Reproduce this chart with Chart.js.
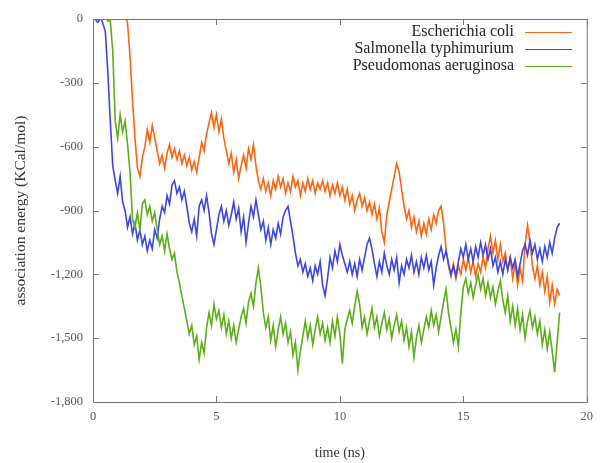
<!DOCTYPE html>
<html>
<head>
<meta charset="utf-8">
<script src="https://cdn.jsdelivr.net/npm/chart.js@4.4.1/dist/chart.umd.min.js"></script>
<style>
html, body { margin: 0; padding: 0; background: #fff; }
#wrap { width: 600px; height: 463px; }
</style>
</head>
<body>
<div id="wrap"><canvas id="energyChart" width="600" height="463"></canvas></div>
<script>
// sampling: every 0.1 ns, each series starts at its own time
const step = 0.1;
const seriesNames = ['Escherichia coli', 'Salmonella typhimurium', 'Pseudomonas aeruginosa'];
const seriesColors = ['#ff6410', '#3c46e6', '#5cad18'];

const ecoliStart = 1.3;
const ecoli = [
  30, -20, -180, -380, -560, -700, -740, -650, -600, -520, -580, -500, -560, -620, -680, -640, -700,
  -630, -590, -650, -610, -660, -620, -680, -640, -690, -650, -710, -670, -720, -650, -580, -620,
  -540, -490, -440, -510, -450, -530, -470, -560, -620, -680, -630, -720, -660, -750, -690, -640,
  -700, -610, -660, -590, -690, -760, -800, -750, -810, -770, -830, -760, -800, -740, -790, -750,
  -820, -770, -810, -740, -790, -760, -830, -770, -810, -750, -800, -760, -820, -770, -800, -760,
  -810, -770, -830, -780, -820, -770, -830, -790, -850, -800, -870, -830, -900, -850, -820, -880,
  -840, -900, -860, -920, -870, -940, -890, -1000, -1050, -920, -860, -800, -740, -680, -720, -800,
  -880, -940, -900, -980, -930, -1000, -950, -1020, -960, -1010, -940, -990, -920, -960, -900, -880,
  -960, -1080, -1160, -1210, -1150, -1220, -1160, -1200, -1130, -1180, -1120, -1190, -1140, -1210,
  -1150, -1190, -1120, -1170, -1080, -1020, -1100, -1040, -1130, -1060, -1140, -1100, -1180, -1120,
  -1220, -1150, -1250, -1170, -1230, -1060, -970, -1050, -1160, -1220, -1160, -1250, -1190, -1280,
  -1210, -1330, -1250, -1340, -1270, -1300
];

const salmonellaStart = 0.1;
const salmonella = [
  -5, -15, 5, -20, -60, -250, -480, -690, -760, -820, -740, -860, -900, -980, -930, -1010, -960,
  -1040, -990, -1060, -1020, -1090, -1040, -1080, -990, -1030, -940, -880, -910, -830, -870, -780,
  -760, -820, -790, -850, -810, -880, -960, -1000, -940, -1020, -880, -850, -900, -830, -910, -1010,
  -1060, -990, -920, -880, -950, -900, -970, -920, -860, -940, -890, -1000, -930, -1050, -960, -880,
  -930, -850, -920, -990, -950, -1040, -980, -1060, -990, -1030, -960, -1010, -930, -900, -880, -950,
  -1020, -1100, -1160, -1130, -1190, -1150, -1210, -1170, -1230, -1160, -1200, -1140, -1250, -1300,
  -1220, -1120, -1170, -1090, -1140, -1060, -1110, -1150, -1190, -1140, -1200, -1150, -1210, -1130,
  -1180, -1120, -1060, -1030, -1080, -1150, -1210, -1140, -1190, -1100, -1160, -1200, -1130, -1180,
  -1120, -1240, -1160, -1200, -1130, -1170, -1110, -1190, -1140, -1200, -1120, -1170, -1110, -1180,
  -1140, -1250, -1170, -1110, -1070, -1130, -1090, -1150, -1200, -1160, -1210, -1140, -1080, -1120,
  -1060, -1130, -1080, -1140, -1070, -1120, -1050, -1110, -1060, -1130, -1080, -1160, -1120, -1190,
  -1140, -1200, -1130, -1180, -1120, -1170, -1130, -1210, -1150, -1090, -1060, -1110, -1040, -1100,
  -1060, -1130, -1080, -1140, -1070, -1120, -1050, -1100, -1030, -980, -960
];

const pseudoStart = 0.5;
const pseudo = [
  20, -10, -5, -150, -480, -560, -450, -530, -480, -590, -720, -940, -980, -910, -990, -870, -850,
  -920, -880, -950, -910, -990, -1060, -1020, -1090, -1010, -1080, -1130, -1100, -1190, -1240, -1300,
  -1360, -1420, -1480, -1440, -1530, -1490, -1600, -1520, -1570, -1450, -1380, -1440, -1340, -1410,
  -1370, -1450, -1390, -1480, -1420, -1500, -1440, -1520, -1460, -1400, -1360, -1430, -1330, -1290,
  -1350, -1240, -1170, -1260, -1380, -1450, -1400, -1510, -1440, -1540, -1460, -1400, -1480, -1430,
  -1520, -1470, -1580, -1520, -1650, -1560, -1490, -1420, -1500, -1440, -1530, -1460, -1400, -1480,
  -1430, -1510, -1450, -1520, -1420, -1490, -1400, -1480, -1620, -1460, -1410, -1370, -1430, -1350,
  -1280, -1340, -1450, -1400, -1480, -1420, -1360, -1450, -1400, -1490, -1430, -1380, -1460, -1410,
  -1500, -1440, -1390, -1470, -1420, -1510, -1450, -1540, -1470, -1590, -1500, -1440, -1520, -1460,
  -1400, -1450, -1370, -1440, -1390, -1470, -1400, -1330, -1270, -1380, -1450, -1520, -1460, -1540,
  -1380, -1260, -1220, -1290, -1240, -1310, -1250, -1200, -1270, -1220, -1300, -1240, -1310, -1260,
  -1340, -1280, -1230, -1320, -1380, -1300, -1420, -1350, -1440, -1360, -1460, -1390, -1500, -1420,
  -1370, -1450, -1400, -1480, -1420, -1530, -1460, -1550, -1470, -1560, -1660, -1520, -1380
];

const xTicks = [0, 5, 10, 15, 20];
const yTicks = [-1800, -1500, -1200, -900, -600, -300, 0];

function toPoints(start, values) {
  return values.map((v, i) => ({ x: +(start + i * step).toFixed(2), y: v }));
}

const serif = '"Liberation Serif", "DejaVu Serif", serif';

// gnuplot-like frame with inward ticks on all four sides
const framePlugin = {
  id: 'frame',
  afterDraw(chart) {
    const { ctx, chartArea: a, scales } = chart;
    ctx.save();
    ctx.strokeStyle = '#777';
    ctx.lineWidth = 1;
    ctx.strokeRect(a.left + 0.5, a.top + 0.5, a.right - a.left, a.bottom - a.top);
    ctx.beginPath();
    xTicks.forEach(t => {
      const px = Math.round(scales.x.getPixelForValue(t)) + 0.5;
      ctx.moveTo(px, a.bottom); ctx.lineTo(px, a.bottom - 6);
      ctx.moveTo(px, a.top); ctx.lineTo(px, a.top + 6);
    });
    yTicks.forEach(t => {
      const py = Math.round(scales.y.getPixelForValue(t)) + 0.5;
      ctx.moveTo(a.left, py); ctx.lineTo(a.left + 6, py);
      ctx.moveTo(a.right, py); ctx.lineTo(a.right - 6, py);
    });
    ctx.stroke();

    // axis titles
    ctx.fillStyle = '#333';
    ctx.textAlign = 'center';
    ctx.textBaseline = 'middle';
    ctx.font = '14px ' + serif;
    ctx.fillText('time (ns)', (a.left + a.right) / 2, 453);
    ctx.translate(21, (a.top + a.bottom) / 2);
    ctx.rotate(-Math.PI / 2);
    ctx.font = '15.5px ' + serif;
    ctx.fillText('association energy (KCal/mol)', 0, 0);
    ctx.restore();

    // key, top right inside the plot
    ctx.save();
    ctx.font = '16px ' + serif;
    ctx.textAlign = 'right';
    ctx.textBaseline = 'middle';
    seriesNames.forEach((name, i) => {
      const y = 32 + i * 17;
      ctx.fillStyle = '#222';
      ctx.fillText(name, 514, y);
      ctx.strokeStyle = seriesColors[i];
      ctx.lineWidth = 1;
      ctx.beginPath();
      ctx.moveTo(525, y + 0.5);
      ctx.lineTo(572, y + 0.5);
      ctx.stroke();
    });
    ctx.restore();
  }
};

const ctx = document.getElementById('energyChart').getContext('2d');
const energyChart = new Chart(ctx, {
  type: 'line',
  data: {
    datasets: [
      { label: seriesNames[0], data: toPoints(ecoliStart, ecoli), borderColor: seriesColors[0], order: 3 },
      { label: seriesNames[1], data: toPoints(salmonellaStart, salmonella), borderColor: seriesColors[1], order: 2 },
      { label: seriesNames[2], data: toPoints(pseudoStart, pseudo), borderColor: seriesColors[2], order: 1 }
    ]
  },
  options: {
    responsive: false,
    animation: false,
    devicePixelRatio: 1,
    layout: { padding: { left: 0, right: 8, top: 19, bottom: 0 } },
    elements: {
      line: { borderWidth: 1.6, tension: 0 },
      point: { radius: 0 }
    },
    plugins: {
      legend: { display: false },
      tooltip: { enabled: false }
    },
    scales: {
      x: {
        type: 'linear',
        min: 0,
        max: 20,
        afterFit: s => { s.height = 61; },
        afterBuildTicks: s => { s.ticks = xTicks.map(v => ({ value: v })); },
        grid: { display: false, drawTicks: false },
        border: { display: false },
        ticks: { color: '#555', padding: 7, font: { family: serif, size: 12.5 } }
      },
      y: {
        min: -1800,
        max: 0,
        afterFit: s => { s.width = 93; },
        afterBuildTicks: s => { s.ticks = yTicks.map(v => ({ value: v })); },
        grid: { display: false, drawTicks: false },
        border: { display: false },
        ticks: { color: '#555', padding: 10, font: { family: serif, size: 12.5 } }
      }
    }
  },
  plugins: [framePlugin]
});
</script>
</body>
</html>
